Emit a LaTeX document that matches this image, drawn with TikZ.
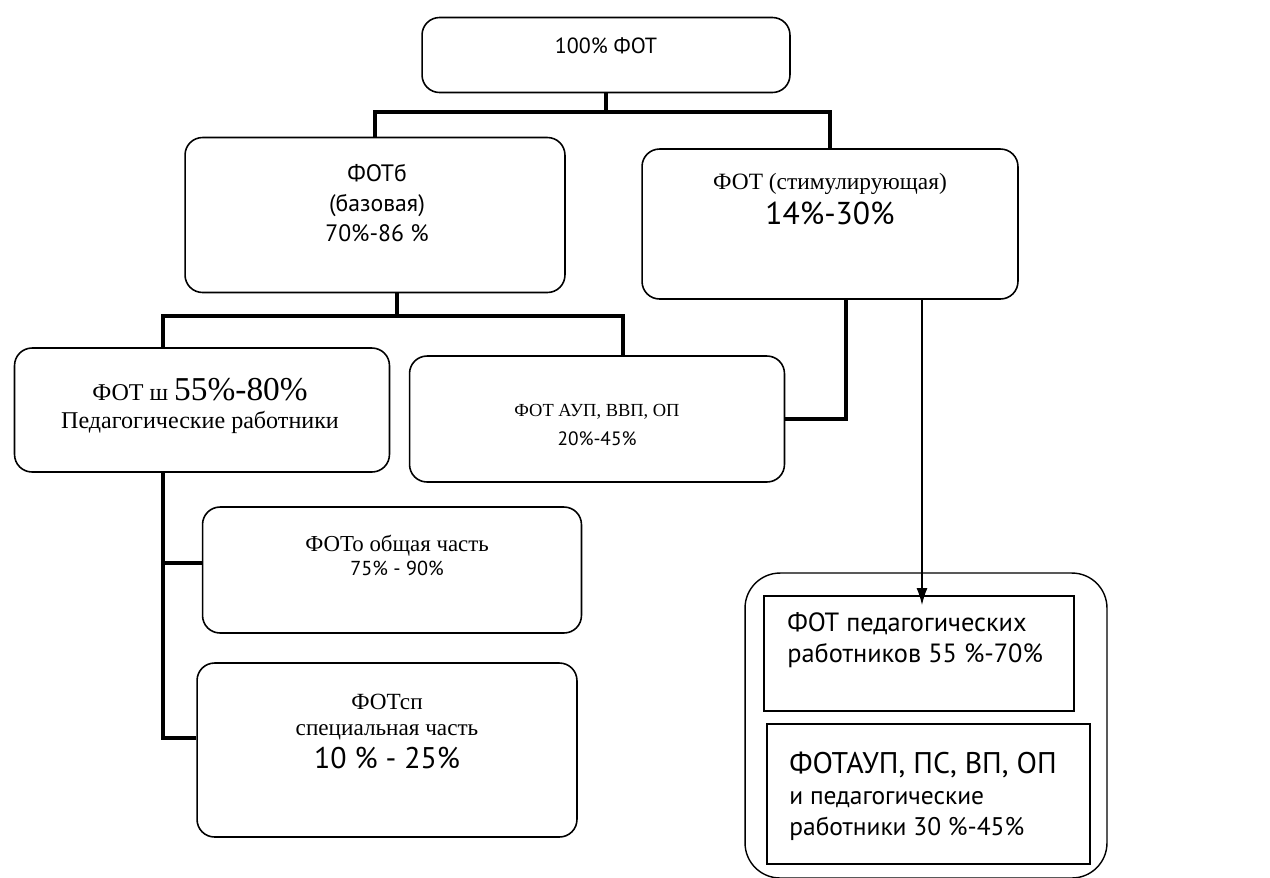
\documentclass[tikz,border=0pt]{standalone}
\usepackage{fontspec}
\setmainfont{Liberation Serif}
\newfontfamily\ptsans{PT Sans}
\usetikzlibrary{arrows.meta}

\begin{document}
\begin{tikzpicture}[x=0.02cm,y=-0.02cm,
    box/.style={draw,line width=0.9pt,rounded corners=0.35cm,inner sep=0pt},
    pbox/.style={draw,line width=0.75pt,inner sep=0pt},
    txt/.style={align=center,inner sep=0pt},
    conn/.style={line width=2.7pt,line join=miter},
    arr/.style={line width=0.7pt,-{Latex[length=3.4mm,width=2.2mm]}}]
  \useasboundingbox[fill=white] (0,0) rectangle (1270,877);

  % boxes
  \node[box,minimum width=7.36cm,minimum height=1.5cm] (top) at (606,55) {};
  \node[box,minimum width=7.6cm,minimum height=3.1cm] (base) at (375,215) {};
  \node[box,minimum width=7.52cm,minimum height=3.0cm] (stim) at (830,224) {};
  \node[box,minimum width=7.5cm,minimum height=2.48cm] (shk) at (202,410) {};
  \node[box,minimum width=7.5cm,minimum height=2.52cm] (aup) at (597,419) {};
  \node[box,minimum width=7.58cm,minimum height=2.52cm] (obsh) at (392,570) {};
  \node[box,minimum width=7.6cm,minimum height=3.48cm] (sp) at (387,750) {};
  \node[draw,line width=0.8pt,rounded corners=0.7cm,minimum width=7.24cm,minimum height=6.1cm] (outer) at (926,725.5) {};
  \node[pbox,minimum width=6.2cm,minimum height=2.3cm] (pr1) at (919,653.5) {};
  \node[pbox,minimum width=6.46cm,minimum height=2.8cm] (pr2) at (928.5,794) {};

  % texts
  \node[txt,font=\ptsans\fontsize{12.5}{15}\selectfont] (topT) at (606,46) {100\% ФОТ};
  \node[txt,font=\ptsans\fontsize{13.5}{17}\selectfont] (baseT) at (377,203) {ФОТб\\(базовая)\\70\%-86 \%};
  \node[txt,font=\ptsans\fontsize{18}{20}\selectfont] (stimT) at (830,199)
    {{\rmfamily\fontsize{13.3}{15}\selectfont ФОТ (стимулирующая)}\\14\%-30\%};
  \node[txt,font=\fontsize{13.7}{16}\selectfont] (shkT) at (200,406)
    {ФОТ ш {\fontsize{19}{16}\selectfont 55\%-80\%}\\Педагогические работники};
  \node[txt,font=\fontsize{10.5}{16}\selectfont] (aupT) at (597,425)
    {ФОТ АУП, ВВП, ОП\\{\ptsans\fontsize{11}{13}\selectfont 20\%-45\%}};
  \node[txt,font=\fontsize{13}{13.6}\selectfont] (obshT) at (397,555)
    {ФОТо общая часть\\{\ptsans\fontsize{11.5}{13}\selectfont 75\% - 90\%}};
  \node[txt,font=\fontsize{13.2}{15.3}\selectfont] (spT) at (387,731)
    {ФОТсп\\специальная часть\\[3pt]{\ptsans\fontsize{17}{19}\selectfont 10 \% - 25\%}};
  \node[txt,align=left,anchor=west,font=\ptsans\fontsize{15}{18}\selectfont] (pr1T) at (787,640)
    {ФОТ педагогических\\работников 55 \%-70\%};
  \node[txt,align=left,anchor=west,font=\ptsans\fontsize{14.5}{17.6}\selectfont] (pr2T) at (789,796)
    {{\fontsize{17}{17.6}\selectfont ФОТАУП, ПС, ВП, ОП}\\и педагогические\\работники 30 \%-45\%};

  % connectors
  \coordinate (bus1) at (0,112);
  \coordinate (bus2) at (0,316);
  \coordinate (s2) at (397,0);
  \coordinate (s3) at (163,0);
  \coordinate (s4) at (623,0);
  \coordinate (s5) at (846,0);
  \coordinate (j1) at (163,563);
  \coordinate (j2) at (163,738);
  \coordinate (tip) at (922,605);
  \draw[conn] (top.south) -- (top.south |- bus1);
  \draw[conn] (base.north) |- (bus1 -| stim.north) -- (stim.north);
  \draw[conn] (base.south -| s2) -- (bus2 -| s2);
  \draw[conn] (shk.north -| s3) |- (bus2 -| s4) -- (aup.north -| s4);
  \draw[conn] (shk.south -| s3) -- (j2) -- (j2 -| sp.west);
  \draw[conn] (j1) -- (j1 -| obsh.west);
  \draw[conn] (aup.east) -| (stim.south -| s5);
  \draw[arr] (stim.south -| tip) -- (tip);
\end{tikzpicture}
\end{document}
